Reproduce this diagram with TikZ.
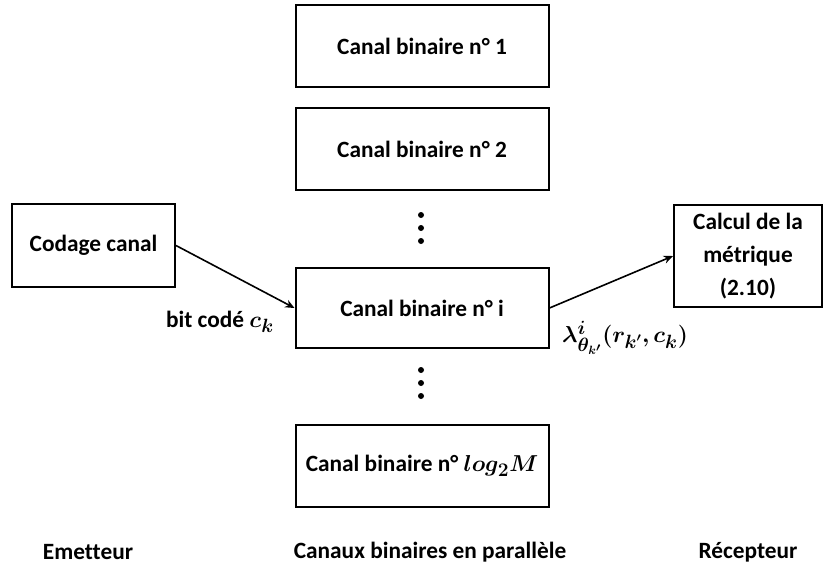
\documentclass[tikz,border=0pt]{standalone}
\usepackage{fontspec}
\usepackage{amsmath,bm}
\setmainfont{Carlito}[Ligatures=NoCommon]
\usetikzlibrary{arrows.meta}
\tikzset{
  box/.style={draw, line width=1.5pt, rectangle, inner sep=2pt, align=center, font=\bfseries\fontsize{17.5}{25}\selectfont},
  arr/.style={line width=1.2pt, -{Stealth[length=7pt,width=6pt]}},
  lbl/.style={font=\bfseries\fontsize{17.5}{22}\selectfont, inner sep=0pt},
  mth/.style={font=\bfseries\fontsize{19}{22}\selectfont, inner sep=0pt},
  dotc/.style={fill=black, circle, inner sep=0pt, minimum size=4.5pt}
}
\begin{document}
\begin{tikzpicture}[x=0.75pt,y=-0.75pt]
\useasboundingbox (0,0) rectangle (825,569);
\node[box, minimum width=189.75pt, minimum height=61.5pt] (c1) at (422,46) {Canal binaire n° 1};
\node[box, minimum width=189.75pt, minimum height=61.5pt] (c2) at (422,149) {Canal binaire n° 2};
\node[box, minimum width=189.75pt, minimum height=60pt] (ci) at (422,308) {Canal binaire n° i};
\node[box, minimum width=189.75pt, minimum height=61.5pt] (cM) at (422,466) {Canal binaire n° {\fontsize{19}{22}\selectfont$\bm{log_2M}$}};
\node[box, minimum width=122.25pt, minimum height=62.25pt] (cod) at (93.5,245.5) {Codage canal};
\node[box, minimum width=111pt, minimum height=76.5pt] (calc) at (748,256) {Calcul de la\\métrique\\(2.10)};
\node[dotc] (d1) at (421,215) {};
\node[dotc] (d2) at (421,228) {};
\node[dotc] (d3) at (421,241) {};
\node[dotc] (d4) at (421,370) {};
\node[dotc] (d5) at (421,383) {};
\node[dotc] (d6) at (421,396) {};
\draw[arr] (cod.east) -- (ci.west);
\draw[arr] (ci.east) -- (calc.west);
\node[lbl] (bc) at (220,322) {bit codé {\fontsize{19}{22}\selectfont$\bm{c_k}$}};
\node[mth] (lam) at (625,338) {$\bm{\lambda^{i}_{\theta_{k'}}(r_{k'},c_k)}$};
\node[lbl] (em) at (88,552) {Emetteur};
\node[lbl] (cb) at (430,552) {Canaux binaires en parallèle};
\node[lbl] (re) at (748,552) {Récepteur};
\end{tikzpicture}
\end{document}
